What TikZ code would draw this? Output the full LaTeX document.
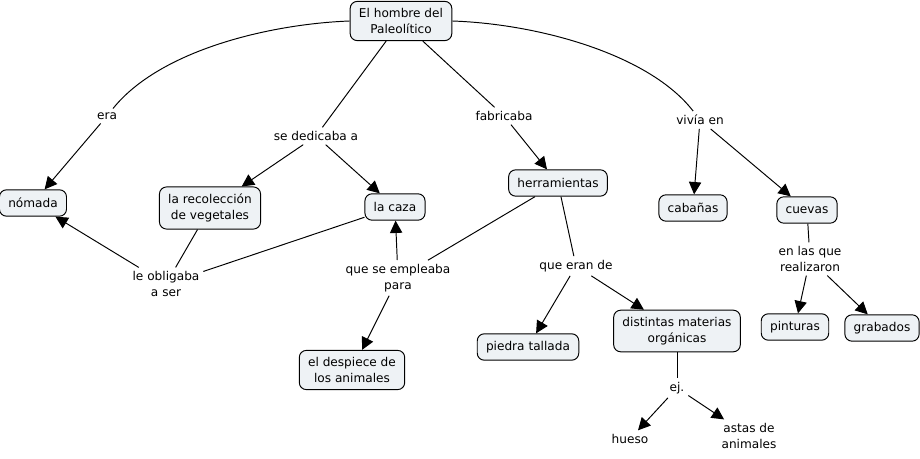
\documentclass[tikz,border=0pt]{standalone}
\usepackage{fontspec}
\setmainfont{DejaVu Sans}
\usepackage{xcolor}
\usetikzlibrary{arrows.meta}
\definecolor{boxfill}{HTML}{EEF2F5}
\newcommand\mapfont{\fontsize{6.9}{9}\selectfont}

\begin{document}
\begin{tikzpicture}[x=0.02cm,y=-0.02cm,line width=0.55pt,
    concepto/.style={draw,rounded corners=4pt,fill=boxfill,align=center,
      inner xsep=5pt,inner ysep=4pt,minimum height=15pt,font=\mapfont},
    enlace/.style={align=center,inner sep=2pt,font=\mapfont},
    flecha/.style={-{Triangle[length=7pt,width=7pt]}}]
  \useasboundingbox (0,0) rectangle (920,459);

  \node[concepto] (hombre) at (401,21) {El hombre del\\Paleolítico};
  \node[concepto] (nomada) at (33,203) {nómada};
  \node[concepto] (recoleccion) at (210,208) {la recolección\\de vegetales};
  \node[concepto] (caza) at (395,207) {la caza};
  \node[concepto] (herram) at (558,183) {herramientas};
  \node[concepto] (cabanas) at (693,208) {cabañas};
  \node[concepto] (cuevas) at (807,210) {cuevas};
  \node[concepto] (despiece) at (352,370) {el despiece de\\los animales};
  \node[concepto] (piedra) at (528,347) {piedra tallada};
  \node[concepto] (materias) at (677,331) {distintas materias\\orgánicas};
  \node[concepto] (pinturas) at (795,327) {pinturas};
  \node[concepto] (grabados) at (882,328) {grabados};

  \node[enlace] (era) at (107,116) {era};
  \node[enlace] (dedica) at (316,136) {se dedicaba a};
  \node[enlace] (fabrica) at (504,116) {fabricaba};
  \node[enlace] (vivia) at (700,120) {vivía en};
  \node[enlace] (obliga) at (166,284) {le obligaba\\a ser};
  \node[enlace] (emplea) at (398,278) {que se empleaba\\para};
  \node[enlace] (eran) at (576,266) {que eran de};
  \node[enlace] (realiz) at (810,259) {en las que\\realizaron};
  \node[enlace] (ej) at (677,388) {ej.};
  \node[enlace] (hueso) at (630,439) {hueso};
  \node[enlace] (astas) at (749,436) {astas de\\animales};

  \draw (hombre.west) .. controls (270,24) and (160,50) .. (era);
  \draw (hombre) -- (dedica);
  \draw (hombre) -- (fabrica);
  \draw (hombre.east) .. controls (540,24) and (650,55) .. (vivia);

  \draw[flecha] (era) -- (nomada);
  \draw[flecha] (dedica) -- (recoleccion);
  \draw[flecha] (dedica) -- (caza);
  \draw[flecha] (fabrica) -- (herram);
  \draw[flecha] (vivia) -- (cabanas);
  \draw[flecha] (vivia) -- (cuevas);

  \draw (recoleccion) -- (obliga);
  \draw (caza) -- (obliga);
  \draw[flecha] (obliga) -- (nomada);

  \draw (herram) -- (emplea);
  \draw[flecha] (emplea) -- (caza);
  \draw[flecha] (emplea) -- (despiece);

  \draw (herram) -- (eran);
  \draw[flecha] (eran) -- (piedra);
  \draw[flecha] (eran) -- (materias);

  \draw (materias) -- (ej);
  \draw[flecha] (ej) -- (hueso);
  \draw[flecha] (ej) -- (astas);

  \draw (cuevas) -- (realiz);
  \draw[flecha] (realiz) -- (pinturas);
  \draw[flecha] (realiz) -- (grabados);
\end{tikzpicture}
\end{document}
